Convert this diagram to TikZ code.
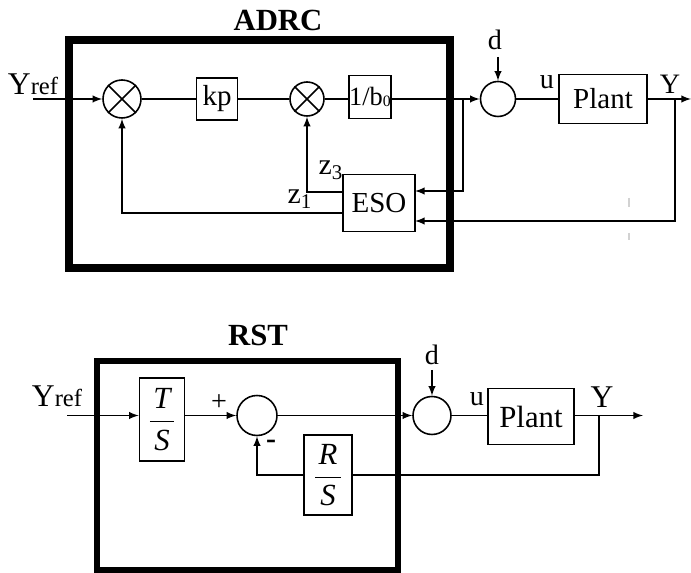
\documentclass[tikz,border=0pt]{standalone}
\usepackage{fontspec}
\setmainfont{Liberation Serif}
\tikzset{
    blk/.style={draw, line width=0.9pt, inner sep=0pt, font=\fontsize{16.5}{18}\selectfont},
    sumnode/.style={draw, circle, line width=0.9pt, inner sep=0pt},
    sig/.style={line width=0.9pt},
    lbl/.style={inner sep=0pt, font=\fontsize{16}{18}\selectfont},
    ttl/.style={font=\fontsize{17.5}{20}\selectfont\bfseries},
}
\newcommand{\yrefl}{{\fontsize{18}{20}\selectfont Y}{\fontsize{14}{15}\selectfont ref}}
\begin{document}
\begin{tikzpicture}[scale=1.0, >=latex]
    \useasboundingbox (0,0) rectangle (13.82,11.46);
    % ===== ADRC =====
    % 外框
    \draw[line width=4pt] (1.38,6.10) rectangle (9.00,10.66);
    \node[ttl] (adrc) at (5.56,11.06) {ADRC};
    % 求和点与方块
    \node[sumnode, minimum size=0.76cm] (s1) at (2.44,9.48) {};
    \draw[sig] (s1.north west) -- (s1.south east) (s1.north east) -- (s1.south west);
    \node[blk, minimum width=0.82cm, minimum height=0.84cm] (kp) at (4.34,9.48) {kp};
    \node[sumnode, minimum size=0.68cm] (s2) at (6.14,9.48) {};
    \draw[sig] (s2.north west) -- (s2.south east) (s2.north east) -- (s2.south west);
    \node[blk, minimum width=0.84cm, minimum height=0.86cm, font=\fontsize{15}{18}\selectfont] (binv) at (7.40,9.52) {1/b\raisebox{-0.5pt}{\fontsize{9}{9}\selectfont 0}};
    \node[blk, minimum width=1.44cm, minimum height=1.14cm] (eso) at (7.58,7.40) {ESO};
    % 对象
    \node[sumnode, minimum size=0.70cm] (dc1) at (9.96,9.48) {};
    \node[blk, minimum width=1.76cm, minimum height=0.98cm] (plant1) at (12.06,9.48) {Plant};
    % 文字
    \node[lbl, anchor=base] (yref1) at (0.66,9.56) {\yrefl};
    \node[lbl] (d1) at (9.90,10.66) {d};
    \node[lbl] (u1) at (10.94,9.82) {u};
    \node[lbl] (y1) at (13.40,9.78) {Y};
    \node[lbl, font=\fontsize{17}{18}\selectfont] (z3) at (6.62,8.06) {z\textsubscript{3}};
    \node[lbl, font=\fontsize{17}{18}\selectfont] (z1) at (6.00,7.48) {z\textsubscript{1}};
    % 连线
    \coordinate (yin1) at (0.66,9.48);
    \coordinate (br1) at (9.26,9.48);
    \coordinate (br2) at (13.50,9.48);
    \coordinate (yout1) at (13.82,9.48);
    \coordinate (esoA) at (8.30,7.64);
    \coordinate (esoB) at (8.30,7.04);
    \coordinate (esoC) at (6.86,7.62);
    \coordinate (esoD) at (6.86,7.20);
    \draw[sig, ->] (yin1) -- (s1);
    \draw[sig] (s1) -- (kp);
    \draw[sig] (kp) -- (s2);
    \draw[sig] (s2) -- (binv.west |- s2);
    \draw[sig, ->] (binv.east |- dc1) -- (dc1);
    \draw[sig, ->] (br1) |- (esoA);
    \draw[sig, ->] (dc1 |- 0,10.32) -- (dc1);
    \draw[sig] (dc1) -- (plant1);
    \draw[sig, ->] (plant1) -- (yout1);
    \draw[sig, ->] (br2) |- (esoB);
    \draw[sig, ->] (esoC) -| (s2);
    \draw[sig, ->] (esoD) -| (s1);
    % 残留标记
    \draw[gray!35, line width=0.8pt] (12.58,7.50) -- (12.58,7.32) (12.58,6.80) -- (12.58,6.66);
    % ===== RST =====
    \draw[line width=3.4pt] (1.94,0.06) rectangle (7.96,4.24);
    \node[ttl] (rst) at (5.16,4.76) {RST};
    \node[blk, minimum width=0.90cm, minimum height=1.66cm, font=\fontsize{17.5}{20}\selectfont] (ts) at (3.24,3.07) {$\displaystyle\frac{\hspace{2pt}\textit{T}\hspace{2pt}}{\hspace{2pt}\textit{S}\hspace{2pt}}$};
    \node[sumnode, minimum size=0.80cm] (s3) at (5.14,3.15) {};
    \node[blk, minimum width=0.96cm, minimum height=1.60cm, font=\fontsize{17.5}{20}\selectfont] (rs) at (6.56,1.96) {$\displaystyle\frac{\hspace{2pt}\textit{R}\hspace{2pt}}{\hspace{2pt}\textit{S}\hspace{2pt}}$};
    \node[sumnode, minimum size=0.76cm] (dc2) at (8.64,3.15) {};
    \node[blk, minimum width=1.72cm, minimum height=1.12cm, font=\fontsize{17.5}{20}\selectfont] (plant2) at (10.62,3.13) {Plant};
    % 文字
    \node[lbl, anchor=base] (yref2) at (1.14,3.32) {\yrefl};
    \node[lbl] (plus) at (4.38,3.40) {+};
    \node[lbl, font=\fontsize{17}{18}\selectfont\bfseries] (minus) at (5.42,2.58) {-};
    \node[lbl] (d2) at (8.64,4.36) {d};
    \node[lbl] (u2) at (9.54,3.48) {u};
    \node[lbl, font=\fontsize{18}{20}\selectfont] (y2) at (12.04,3.52) {Y};
    % 连线
    \coordinate (yin2) at (1.34,3.15);
    \coordinate (br3) at (11.98,3.15);
    \coordinate (yout2) at (12.86,3.15);
    \draw[sig, ->] (yin2) -- (yin2 -| ts.west);
    \draw[sig, ->] (ts.east |- s3) -- (s3);
    \draw[sig, ->] (s3) -- (dc2);
    \draw[sig, ->] (dc2 |- 0,4.06) -- (dc2);
    \draw[sig] (dc2) -- (plant2.west |- dc2);
    \draw[sig, ->] (plant2.east |- yout2) -- (yout2);
    \draw[sig] (br3) |- (rs);
    \draw[sig, ->] (rs) -| (s3);
\end{tikzpicture}
\end{document}
